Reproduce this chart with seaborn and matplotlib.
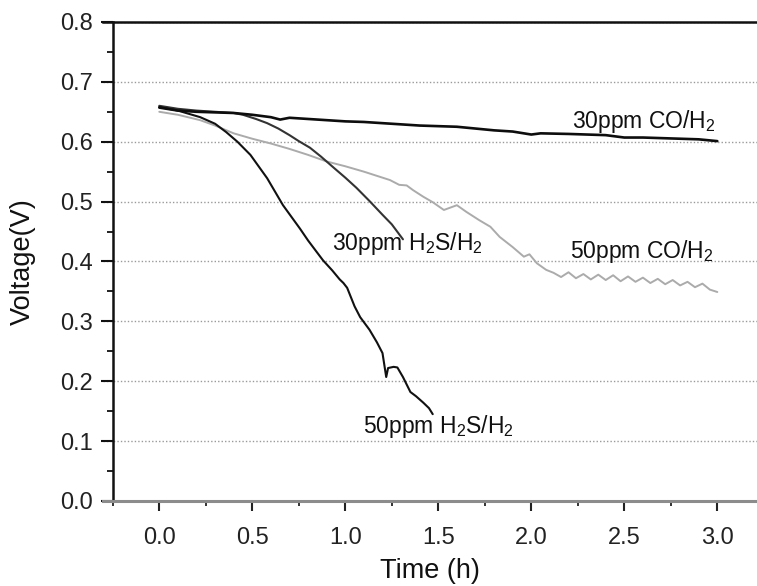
import matplotlib
matplotlib.use("Agg")
import matplotlib.pyplot as plt
from matplotlib.ticker import MultipleLocator, FormatStrFormatter
import seaborn as sns
import pandas as pd

# Cell voltage vs. time under different impurity feeds
t_co30 = [0.0, 0.1, 0.2, 0.3, 0.4, 0.5, 0.6, 0.65, 0.7, 0.8, 0.9, 1.0, 1.1, 1.2,
          1.3, 1.4, 1.5, 1.6, 1.7, 1.8, 1.9, 2.0, 2.05, 2.2, 2.4, 2.5, 2.6, 2.8,
          2.9, 3.0]
v_co30 = [0.657, 0.652, 0.650, 0.649, 0.648, 0.645, 0.641, 0.637, 0.640, 0.638,
          0.636, 0.634, 0.633, 0.631, 0.629, 0.627, 0.626, 0.625, 0.622, 0.619,
          0.617, 0.612, 0.614, 0.613, 0.611, 0.607, 0.607, 0.605, 0.604, 0.601]

t_co50 = [0.0, 0.1, 0.22, 0.3, 0.4, 0.5, 0.6, 0.7, 0.8, 0.9, 1.0, 1.1, 1.19,
          1.24, 1.29, 1.33, 1.365, 1.42, 1.47, 1.53, 1.60, 1.65, 1.72, 1.78,
          1.83, 1.90, 1.96, 1.99, 2.03, 2.08, 2.12, 2.16, 2.2, 2.24, 2.28, 2.32,
          2.36, 2.40, 2.44, 2.48, 2.52, 2.56, 2.60, 2.64, 2.68, 2.72, 2.76,
          2.80, 2.84, 2.88, 2.92, 2.96, 3.0]
v_co50 = [0.650, 0.645, 0.636, 0.627, 0.614, 0.605, 0.597, 0.588, 0.578, 0.567,
          0.559, 0.550, 0.541, 0.536, 0.528, 0.527, 0.519, 0.508, 0.499, 0.486,
          0.494, 0.483, 0.469, 0.458, 0.441, 0.424, 0.408, 0.412, 0.397, 0.386,
          0.381, 0.374, 0.382, 0.372, 0.379, 0.370, 0.378, 0.369, 0.377, 0.367,
          0.375, 0.366, 0.373, 0.364, 0.371, 0.362, 0.369, 0.360, 0.366, 0.357,
          0.363, 0.353, 0.349]

t_h2s30 = [0.0, 0.1, 0.2, 0.3, 0.4, 0.45, 0.52, 0.58, 0.64, 0.7, 0.75, 0.81,
           0.87, 0.94, 1.0, 1.06, 1.13, 1.2, 1.25, 1.31]
v_h2s30 = [0.660, 0.655, 0.652, 0.650, 0.648, 0.645, 0.638, 0.631, 0.622, 0.611,
           0.601, 0.590, 0.575, 0.556, 0.540, 0.523, 0.501, 0.478, 0.462, 0.437]

t_h2s50 = [0.0, 0.1, 0.22, 0.3, 0.36, 0.42, 0.49, 0.58, 0.665, 0.756, 0.8,
           0.846, 0.88, 0.93, 0.97, 0.99, 1.01, 1.05, 1.08, 1.13, 1.17, 1.20,
           1.22, 1.23, 1.26, 1.28, 1.31, 1.35, 1.38, 1.42, 1.45, 1.47]
v_h2s50 = [0.658, 0.652, 0.641, 0.630, 0.616, 0.600, 0.578, 0.539, 0.494, 0.455,
           0.435, 0.416, 0.402, 0.385, 0.370, 0.364, 0.356, 0.325, 0.307, 0.286,
           0.265, 0.247, 0.207, 0.222, 0.224, 0.223, 0.207, 0.182, 0.175, 0.164,
           0.155, 0.145]

y_ticks = [0.0, 0.1, 0.2, 0.3, 0.4, 0.5, 0.6, 0.7, 0.8]
x_ticks = [0.0, 0.5, 1.0, 1.5, 2.0, 2.5, 3.0]

sns.set_theme(style="white")
plt.rcParams["font.family"] = ["Liberation Sans", "DejaVu Sans"]
plt.rcParams["mathtext.default"] = "regular"

fig = plt.figure(figsize=(7.57, 5.86), dpi=100)
ax = fig.add_axes([0.1367, 0.1451, 0.8633, 0.8174])

series = [
    (t_co50, v_co50, "#ababab", 1.4),
    (t_h2s30, v_h2s30, "#333333", 1.5),
    (t_h2s50, v_h2s50, "#111111", 1.5),
    (t_co30, v_co30, "#0d0d0d", 1.9),
]
for tt, vv, col, lw in series:
    df = pd.DataFrame({"t": tt, "v": vv})
    sns.lineplot(data=df, x="t", y="v", color=col, lw=lw, ax=ax,
                 estimator=None, sort=False)

ax.set_xlim(-0.30, 3.2134)
ax.set_ylim(0.0, 0.8)
ax.set_xticks(x_ticks)
ax.set_yticks(y_ticks)
ax.xaxis.set_minor_locator(MultipleLocator(0.25))
ax.yaxis.set_minor_locator(MultipleLocator(0.05))
ax.xaxis.set_major_formatter(FormatStrFormatter("%.1f"))
ax.yaxis.set_major_formatter(FormatStrFormatter("%.1f"))

ax.spines["left"].set_position(("data", -0.25))
ax.spines["right"].set_visible(False)
ax.spines["left"].set_color("#111111")
ax.spines["left"].set_linewidth(1.8)
ax.spines["top"].set_color("#111111")
ax.spines["top"].set_linewidth(1.8)
ax.spines["bottom"].set_color("#8c8c8c")
ax.spines["bottom"].set_linewidth(2.2)

ax.tick_params(axis="y", which="major", direction="out", length=8.5, width=1.5,
               color="#111111", labelsize=17, labelcolor="#222222", pad=6,
               left=True)
ax.tick_params(axis="y", which="minor", direction="out", length=4, width=1.3,
               color="#111111", left=True)
ax.tick_params(axis="x", which="major", direction="out", length=7.5, width=1.5,
               color="#222222", labelsize=17, labelcolor="#222222", pad=11,
               bottom=True)
ax.tick_params(axis="x", which="minor", direction="out", length=3.5, width=1.3,
               color="#222222", bottom=True)

ax.yaxis.grid(True, which="major", linestyle=(0, (1, 1.5)), color="#9a9a9a",
              linewidth=1.0)
ax.xaxis.grid(False)

ax.set_xlabel("Time (h)", fontsize=19.5, color="#111111", labelpad=7)
ax.set_ylabel("Voltage(V)", fontsize=19.5, color="#111111", labelpad=17)

ann_kw = dict(fontsize=16.5, color="#111111", ha="left", va="baseline")
ax.text(2.219, 0.623, "30ppm CO/H$_2$", **ann_kw)
ax.text(2.208, 0.406, "50ppm CO/H$_2$", **ann_kw)
ax.text(0.927, 0.419, "30ppm H$_2$S/H$_2$", **ann_kw)
ax.text(1.095, 0.114, "50ppm H$_2$S/H$_2$", **ann_kw)

fig.savefig("out.png", dpi=100)
